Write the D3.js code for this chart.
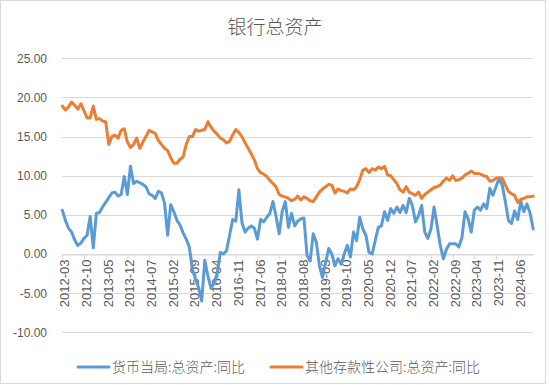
<!DOCTYPE html>
<html>
<head>
<meta charset="utf-8">
<script src="https://cdn.jsdelivr.net/npm/d3@7"></script>
<style>
  body { margin: 0; background: #fff; }
  svg { display: block; font-family: "Liberation Sans", Arial, sans-serif; }
</style>
</head>
<body>
<svg width="550" height="385"></svg>
<script>
// 月份类目 2012-03 ~ 2024-11
const months = d3.utcMonth.range(new Date(Date.UTC(2012, 2, 1)), new Date(Date.UTC(2024, 11, 1)))
    .map(d3.utcFormat("%Y-%m"));

const yTicks = [-10, -5, 0, 5, 10, 15, 20, 25];
const seriesNames = ["货币当局:总资产:同比", "其他存款性公司:总资产:同比"];
const seriesColors = ["#5B9BD5", "#ED7D31"];

// 货币当局:总资产:同比
const pbocAssets = [
    5.6, 4.3, 3.3, 2.8, 1.8, 1.1, 1.4, 2.0, 2.4, 4.8,
    0.8, 5.2, 5.3, 6.0, 6.6, 7.2, 7.8, 7.9, 7.4, 7.6,
    9.9, 7.6, 11.2, 9.0, 9.3, 9.1, 8.9, 8.6, 7.7, 7.5,
    7.1, 8.0, 7.8, 6.5, 2.4, 6.3, 5.4, 4.3, 3.7, 2.7,
    1.9, 0.9, -2.0, -3.2, -4.3, -6.0, -0.8, -2.8, -4.4, -3.7,
    -2.5, 0.2, 0.0, 0.4, 2.4, 4.4, 4.2, 8.2, 4.0, 2.8,
    3.3, 3.6, 3.3, 1.9, 4.4, 4.1, 4.7, 5.2, 6.7, 4.8,
    2.6, 5.5, 6.7, 3.4, 5.2, 3.6, 4.2, 4.5, 4.6, -0.2,
    -0.9, 2.6, 1.5, -1.5, -3.0, -1.1, 0.7, 0.0, -1.5, -0.6,
    -1.3, 0.0, 1.1, -0.4, 2.8, 1.7, 4.7, 3.2, 2.4, 0.2,
    0.0, 1.7, 3.4, 3.6, 5.4, 4.3, 5.8, 5.2, 6.0, 5.3,
    6.2, 5.3, 7.1, 6.2, 4.1, 4.9, 6.2, 2.8, 2.0, 3.2,
    6.0, 3.6, 1.1, -0.6, 0.6, 1.3, 1.3, 1.3, 0.9, 2.1,
    5.4, 4.5, 2.8, 5.6, 6.0, 5.6, 6.4, 5.8, 8.4, 7.5,
    8.6, 9.7, 8.8, 6.7, 4.3, 3.9, 5.5, 4.4, 6.7, 5.4,
    6.4, 5.2, 3.2
];

// 其他存款性公司:总资产:同比
const otherAssets = [
    18.9, 18.4, 18.8, 19.4, 19.0, 18.5, 19.2, 18.3, 17.4, 17.4,
    18.9, 17.2, 17.3, 17.0, 16.9, 14.0, 15.0, 15.2, 14.8, 15.8,
    16.0, 14.3, 13.6, 14.0, 14.8, 13.5, 14.3, 15.0, 15.8, 15.6,
    15.4, 14.5, 14.0, 13.5, 13.2, 12.3, 11.6, 11.6, 12.1, 12.4,
    14.0, 15.0, 15.0, 15.9, 15.7, 15.8, 15.9, 16.9, 16.2, 15.7,
    15.3, 14.8, 14.6, 14.2, 14.4, 15.2, 15.9, 15.5, 15.0, 14.2,
    13.5, 12.8, 12.0, 10.9, 10.4, 10.2, 9.9, 9.4, 9.0, 8.6,
    7.6, 7.4, 7.3, 7.1, 6.8, 7.0, 7.4, 6.9, 7.3, 7.1,
    6.8, 6.7, 7.3, 7.9, 8.3, 8.6, 8.9, 8.8, 7.8, 8.3,
    8.1, 8.0, 7.8, 8.3, 8.2, 8.6, 9.5, 10.7, 10.9, 10.4,
    10.9, 10.7, 11.1, 10.9, 11.2, 10.1, 10.0, 9.5, 9.0, 8.2,
    7.9, 8.6, 7.9, 7.7, 7.5, 7.9, 7.1, 7.6, 7.9, 8.2,
    8.5, 8.6, 8.8, 9.3, 9.7, 9.4, 10.0, 9.4, 9.5, 9.7,
    10.1, 10.3, 10.6, 10.3, 10.3, 10.2, 10.0, 9.9, 9.3, 9.4,
    9.7, 9.7, 9.7, 8.8, 8.0, 7.7, 7.5, 6.6, 7.0, 7.1,
    7.3, 7.3, 7.4
];

const svg = d3.select("svg");
const textColor = "#595959";
const gridColor = "#d9d9d9";

// 外框
svg.append("rect")
    .attr("x", 0.5).attr("y", 0.5)
    .attr("width", 545).attr("height", 383)
    .attr("fill", "#fff")
    .attr("stroke", gridColor);

const x = d3.scalePoint().domain(months).range([62.3, 533.2]);
const y = d3.scaleLinear().domain([-10, 25]).range([332.3, 58.3]);

// 网格线
svg.append("g")
    .selectAll("line")
    .data(yTicks)
    .enter()
    .append("line")
    .attr("x1", x.range()[0])
    .attr("x2", x.range()[1])
    .attr("y1", d => Math.round(y(d)) + 0.5)
    .attr("y2", d => Math.round(y(d)) + 0.5)
    .attr("stroke", gridColor)
    .attr("stroke-width", 1);

// Y 轴
const yAxis = svg.append("g")
    .attr("transform", "translate(47, 0)")
    .call(d3.axisLeft(y).tickValues(yTicks).tickSize(0).tickFormat(d => d.toFixed(2)));
yAxis.select(".domain").remove();
yAxis.selectAll("text")
    .attr("x", 0)
    .attr("fill", textColor)
    .style("font-size", "12px");

// X 轴 (在 0 处)
const xAxis = svg.append("g")
    .attr("transform", `translate(0, ${Math.round(y(0)) + 0.5})`)
    .call(d3.axisBottom(x)
        .tickValues(months.filter((d, i) => i % 7 === 0))
        .tickSizeInner(5)
        .tickSizeOuter(0));
xAxis.select(".domain").attr("stroke", gridColor);
xAxis.selectAll(".tick line").attr("stroke", gridColor);
xAxis.selectAll("text")
    .attr("fill", textColor)
    .style("font-size", "13px")
    .attr("transform", "rotate(-90)")
    .attr("text-anchor", "end")
    .attr("x", -5)
    .attr("y", 2)
    .attr("dy", "0.35em");

// 折线
const line = d3.line()
    .x((d, i) => x(months[i]))
    .y(d => y(d));

[pbocAssets, otherAssets].forEach((series, k) => {
    svg.append("path")
        .datum(series)
        .attr("fill", "none")
        .attr("stroke", seriesColors[k])
        .attr("stroke-width", 3)
        .attr("stroke-linejoin", "round")
        .attr("stroke-linecap", "round")
        .attr("d", line);
});

// 标题
svg.append("text")
    .attr("x", 275)
    .attr("y", 34)
    .attr("text-anchor", "middle")
    .attr("fill", textColor)
    .style("font-family", "'Noto Sans CJK SC', sans-serif")
    .style("font-weight", 300)
    .style("font-size", "19px")
    .text("银行总资产");

// 图例
const legendX = [78, 271];
const legend = svg.append("g")
    .selectAll("g")
    .data(seriesNames)
    .enter()
    .append("g")
    .attr("transform", (d, i) => `translate(${legendX[i]}, 367)`);

legend.append("line")
    .attr("x1", 0).attr("x2", 31)
    .attr("stroke", (d, i) => seriesColors[i])
    .attr("stroke-width", 3)
    .attr("stroke-linecap", "round");

legend.append("text")
    .attr("x", 34)
    .attr("dy", "0.35em")
    .attr("fill", textColor)
    .style("font-family", "'Noto Sans CJK SC', sans-serif")
    .style("font-weight", 300)
    .style("font-size", "14px")
    .text(d => d);
</script>
</body>
</html>
